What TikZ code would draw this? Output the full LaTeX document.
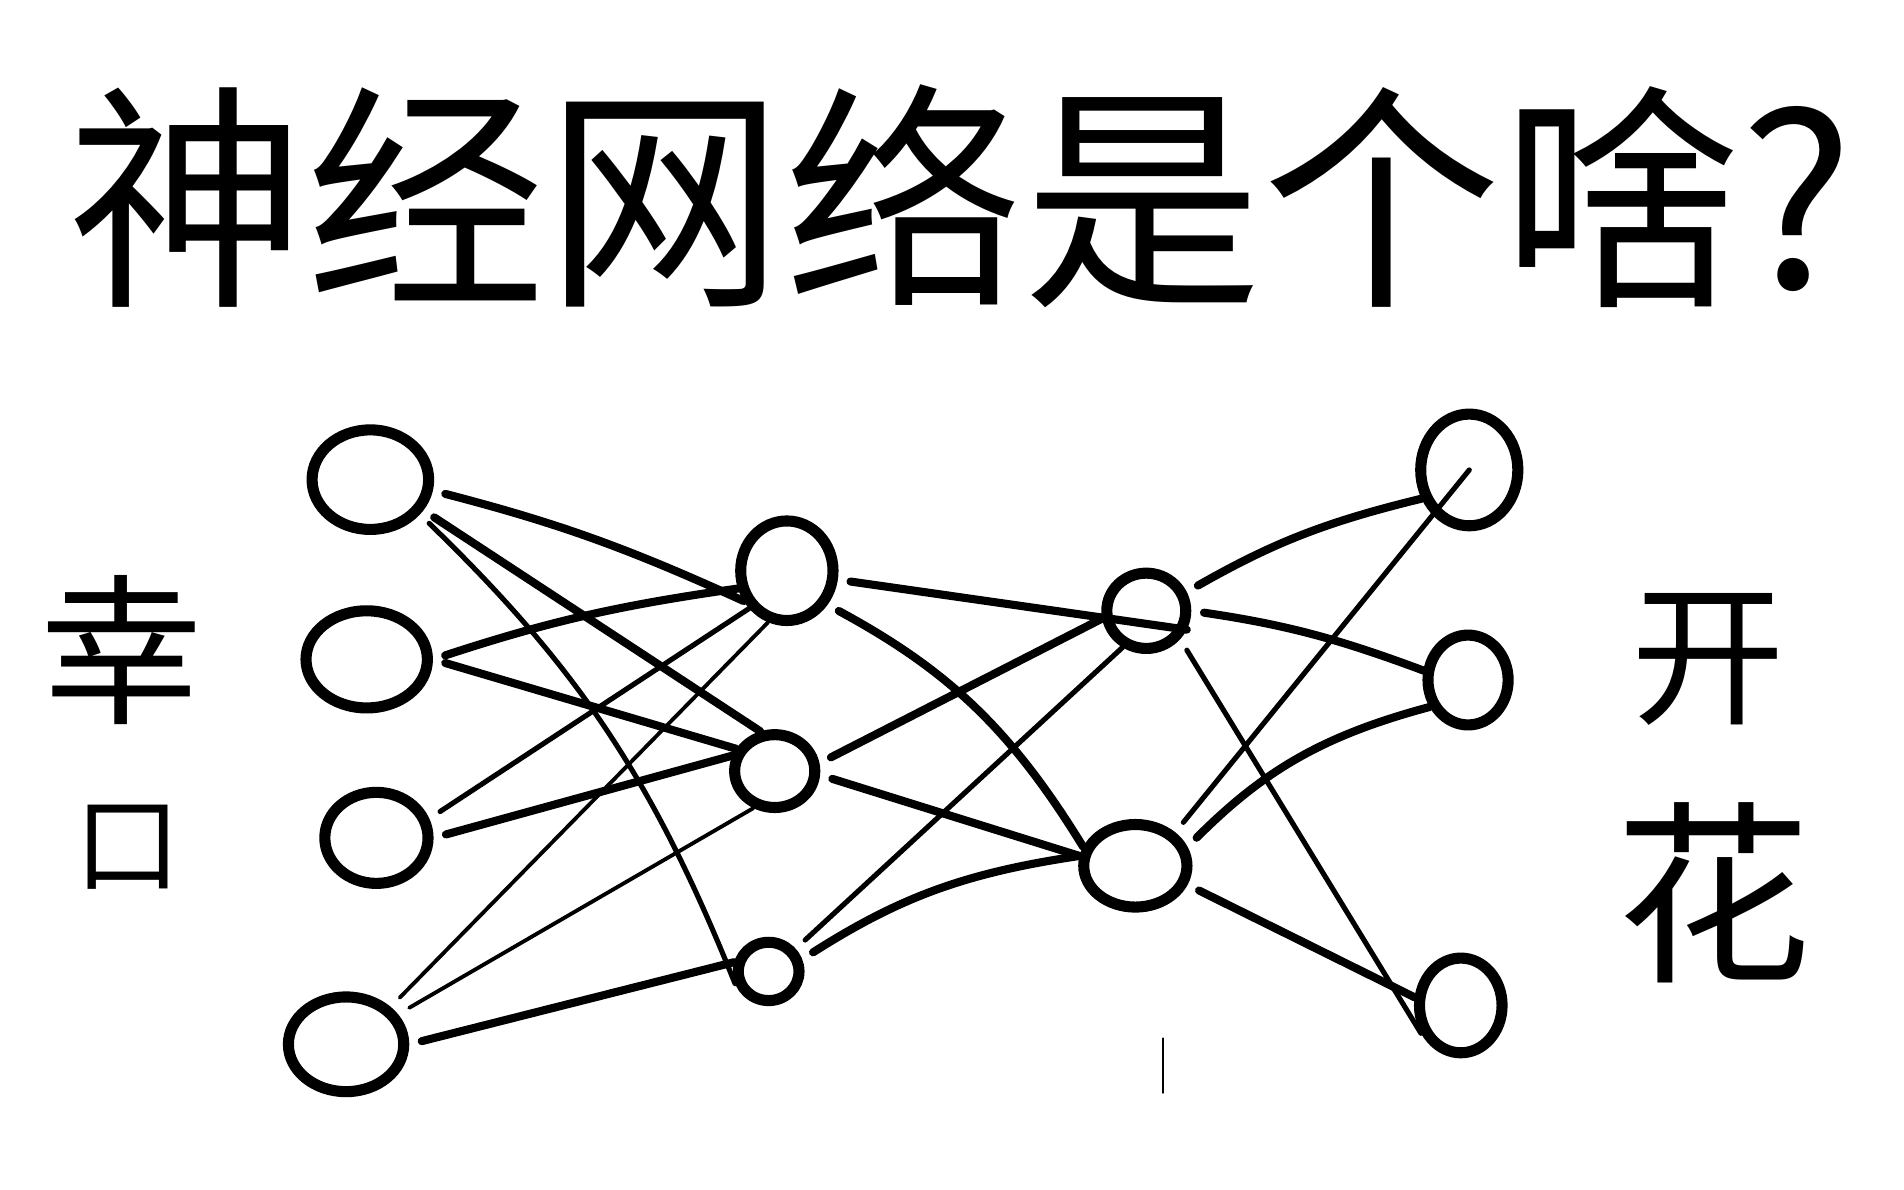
\documentclass[tikz,border=0pt]{standalone}
\usepackage{fontspec}
\newfontfamily\cjk{Noto Sans CJK SC}
\usetikzlibrary{shapes.geometric}

\begin{document}
\begin{tikzpicture}[x=0.1mm, y=0.1mm, line cap=round,
    neuron/.style={draw, ellipse, line width=2.6pt, inner sep=0pt},
    link/.style={line width=1.9pt, shorten <=3pt},
    midlink/.style={line width=1.2pt, shorten <=3pt},
    thinlink/.style={line width=0.9pt, shorten <=3pt}]
\useasboundingbox (0,0) rectangle (1568,-980);
% title
\node[inner sep=0pt, anchor=west, font={\cjk\fontsize{56}{60}\selectfont}] (title) at (55,-162) {神经网络是个啥?};
% side labels
\node[inner sep=0pt, font={\cjk\fontsize{38}{40}\selectfont}] (inA) at (100,-535) {幸};
\node[inner sep=0pt, font={\cjk\fontsize{25}{27}\selectfont}] (inB) at (105,-698) {口};
\node[inner sep=0pt, font={\cjk\fontsize{36}{38}\selectfont}] (outA) at (1407,-543) {开};
\node[inner sep=0pt, font={\cjk\fontsize{46}{48}\selectfont}] (outB) at (1411,-735) {花};
% input layer
\node[neuron, minimum width=9.6mm, minimum height=8.2mm] (I1) at (305,-395) {};
\node[neuron, minimum width=10mm, minimum height=8mm] (I2) at (302,-543) {};
\node[neuron, minimum width=8.5mm, minimum height=7.5mm] (I3) at (310,-690) {};
\node[neuron, minimum width=9.5mm, minimum height=7.8mm] (I4) at (285,-860) {};
% first hidden layer
\node[neuron, minimum width=7.6mm, minimum height=8.2mm] (H1) at (648,-470) {};
\node[neuron, minimum width=6.6mm, minimum height=6mm] (H2) at (638,-635) {};
\node[neuron, minimum width=5mm, minimum height=4.8mm] (H3) at (633,-800) {};
% second hidden layer
\node[neuron, minimum width=6.5mm, minimum height=6.2mm] (G1) at (944,-503) {};
\node[neuron, minimum width=8.5mm, minimum height=6.8mm] (G2) at (935,-713) {};
% output layer
\node[neuron, minimum width=8mm, minimum height=9.2mm] (O1) at (1210,-387) {};
\node[neuron, minimum width=6.6mm, minimum height=7.4mm] (O2) at (1209,-560) {};
\node[neuron, minimum width=6.8mm, minimum height=7.8mm] (O3) at (1203,-828) {};

% input -> first hidden
\draw[link] (I1.-10) to[bend left=5] (H1.215);
\draw[link] (I1.-30) -- (H2.110);
\draw[midlink] (I1.-35) to[bend left=12] (H3.200);
\draw[link] (I2.east) to[bend left=5] (H1.200);
\draw[link] (I2.east) -- (H2.150);
\draw[midlink] (I3.20) -- (H1.225);
\draw[link] (I3.east) -- (H2.160);
\draw[thinlink] (I4.40) -- (H1.250);
\draw[thinlink] (I4.30) -- (H2.240);
\draw[link] (I4.east) -- (H3.165);
% first hidden -> second hidden
\draw[link] (H1.-10) -- (G1.-25);
\draw[link] (H1.-40) to[bend left=15] (G2.160);
\draw[link] (H2.10) -- (G1.190);
\draw[link] (H2.-5) -- (G2.170);
\draw[midlink] (H3.40) -- (G1.237);
\draw[link] (H3.20) to[bend left=12] (G2.170);
% second hidden -> output
\draw[link] (G1.25) to[bend left=8] (O1.211);
\draw[link] (G1.0) to[bend left=6] (O2.168);
\draw[midlink] (G1.-40) -- (O3.215);
\draw[midlink] (G2.40) -- (O1.center);
\draw[link] (G2.20) to[bend left=15] (O2.215);
\draw[link] (G2.-20) -- (O3.170);
% stray mark
\draw[line width=0.4pt] (958,-855) -- (958,-900);
\end{tikzpicture}
\end{document}
